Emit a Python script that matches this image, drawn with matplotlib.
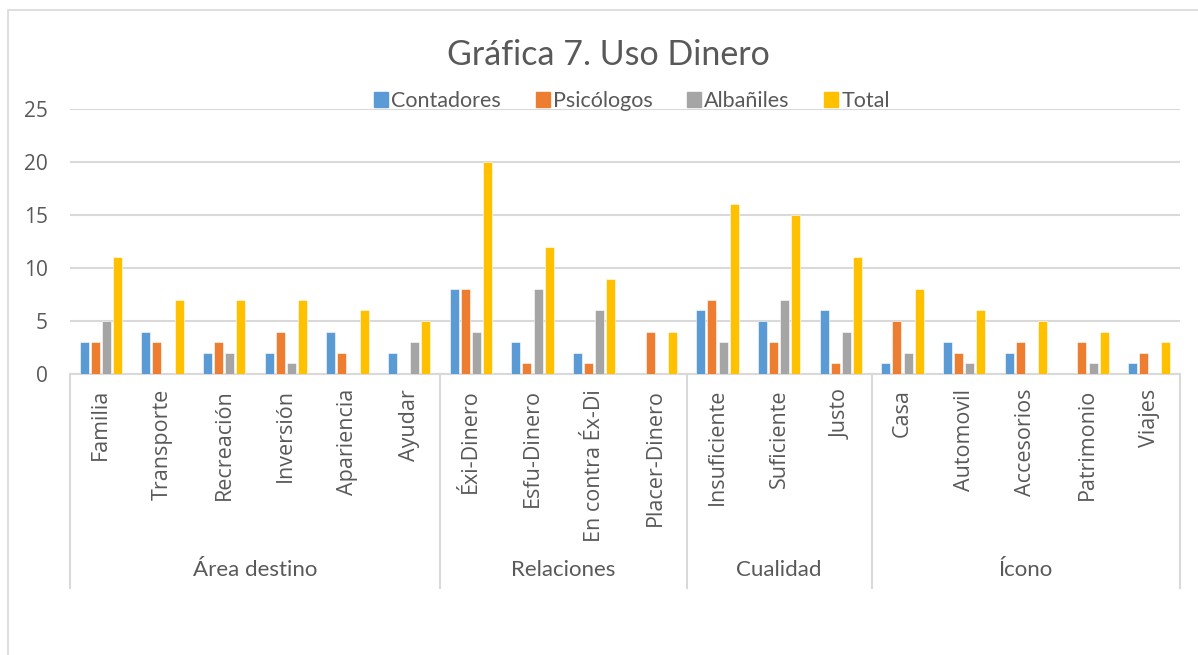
import matplotlib
matplotlib.use("Agg")
import matplotlib.pyplot as plt
from matplotlib.patches import Rectangle
from matplotlib.lines import Line2D
import numpy as np

categories = ["Familia", "Transporte", "Recreación", "Inversión", "Apariencia", "Ayudar",
              "Éxi-Dinero", "Esfu-Dinero", "En contra Éx-Di", "Placer-Dinero",
              "Insuficiente", "Suficiente", "Justo",
              "Casa", "Automovil", "Accesorios", "Patrimonio", "Viajes"]
groups = ["Área destino", "Relaciones", "Cualidad", "Ícono"]
group_sizes = [6, 4, 3, 5]

series_names = ["Contadores", "Psicólogos", "Albañiles", "Total"]
contadores = [3, 4, 2, 2, 4, 2, 8, 3, 2, 0, 6, 5, 6, 1, 3, 2, 0, 1]
psicologos = [3, 3, 3, 4, 2, 0, 8, 1, 1, 4, 7, 3, 1, 5, 2, 3, 3, 2]
albaniles  = [5, 0, 2, 1, 0, 3, 4, 8, 6, 0, 3, 7, 4, 2, 1, 0, 1, 0]
total      = [11, 7, 7, 7, 6, 5, 20, 12, 9, 4, 16, 15, 11, 8, 6, 5, 4, 3]
yticks = [0, 5, 10, 15, 20, 25]

colors = ["#5B9BD5", "#ED7D31", "#A5A5A5", "#FFC000"]
txt = "#595959"

W, H = 1198, 655
fig = plt.figure(figsize=(W / 100, H / 100), dpi=100)
left, right, top, bottom = 70, 1180, 109, 374
ax = fig.add_axes([left / W, 1 - bottom / H, (right - left) / W, (bottom - top) / H])

x = np.arange(len(categories))
pitch = 0.181
width = 0.145
for i, (vals, c, name) in enumerate(zip([contadores, psicologos, albaniles, total], colors, series_names)):
    ax.bar(x + (i - 1.5) * pitch, vals, width=width, color=c, label=name,
           edgecolor="white", linewidth=0.4, zorder=3)

ax.set_xlim(-0.5, len(categories) - 0.5)
ax.set_ylim(0, 25)
ax.set_yticks(yticks)
ax.set_yticklabels([str(v) for v in yticks], fontsize=15, color=txt, family="Open Sans")
ax.tick_params(axis="y", length=0, pad=16)
ax.set_xticks([])
ax.grid(axis="y", color="#D9D9D9", linewidth=1.5, zorder=0)
for s in ["top", "right", "left"]:
    ax.spines[s].set_visible(False)
ax.spines["bottom"].set_color("#D9D9D9")
ax.spines["bottom"].set_linewidth(1.5)

trans = ax.get_xaxis_transform()
ah = bottom - top
for xi, lab in zip(x, categories):
    ax.text(xi, -15 / ah, lab, rotation=90, ha="center", va="top", fontsize=15.5,
            color=txt, family="Open Sans", transform=trans, clip_on=False)

# group separators and labels
bounds = np.concatenate([[0], np.cumsum(group_sizes)]) - 0.5
sep_bottom = -(588 - bottom) / ah
for b in bounds:
    ax.add_line(Line2D([b, b], [0, sep_bottom], transform=trans, color="#D9D9D9",
                       linewidth=1.5, clip_on=False))
for g, a, b in zip(groups, bounds[:-1], bounds[1:]):
    ax.text((a + b) / 2, -(570 - bottom) / ah, g, ha="center", va="center", fontsize=16,
            color=txt, family="Lato", transform=trans, clip_on=False)

fig.text(608 / W, 1 - 55 / H, "Gráfica 7. Uso Dinero", ha="center", va="center",
         fontsize=24.5, color=txt, family="Lato")

handles = [Rectangle((0, 0), 1, 1, color=c) for c in colors]
fig.legend(handles, series_names, loc="center", bbox_to_anchor=(632 / W, 1 - 101 / H),
           ncol=4, frameon=False, handlelength=0.65, handleheight=0.7,
           handletextpad=0.15, columnspacing=1.6, labelcolor=txt,
           prop={"family": "Lato", "size": 15.5})

# outer chart border
fig.patches.append(Rectangle((8 / W, -0.01), 1.2, 1 - 10 / H + 0.01, transform=fig.transFigure,
                             fill=False, edgecolor="#D9D9D9", linewidth=1.2))

fig.savefig("out.png", dpi=100, facecolor="white")
